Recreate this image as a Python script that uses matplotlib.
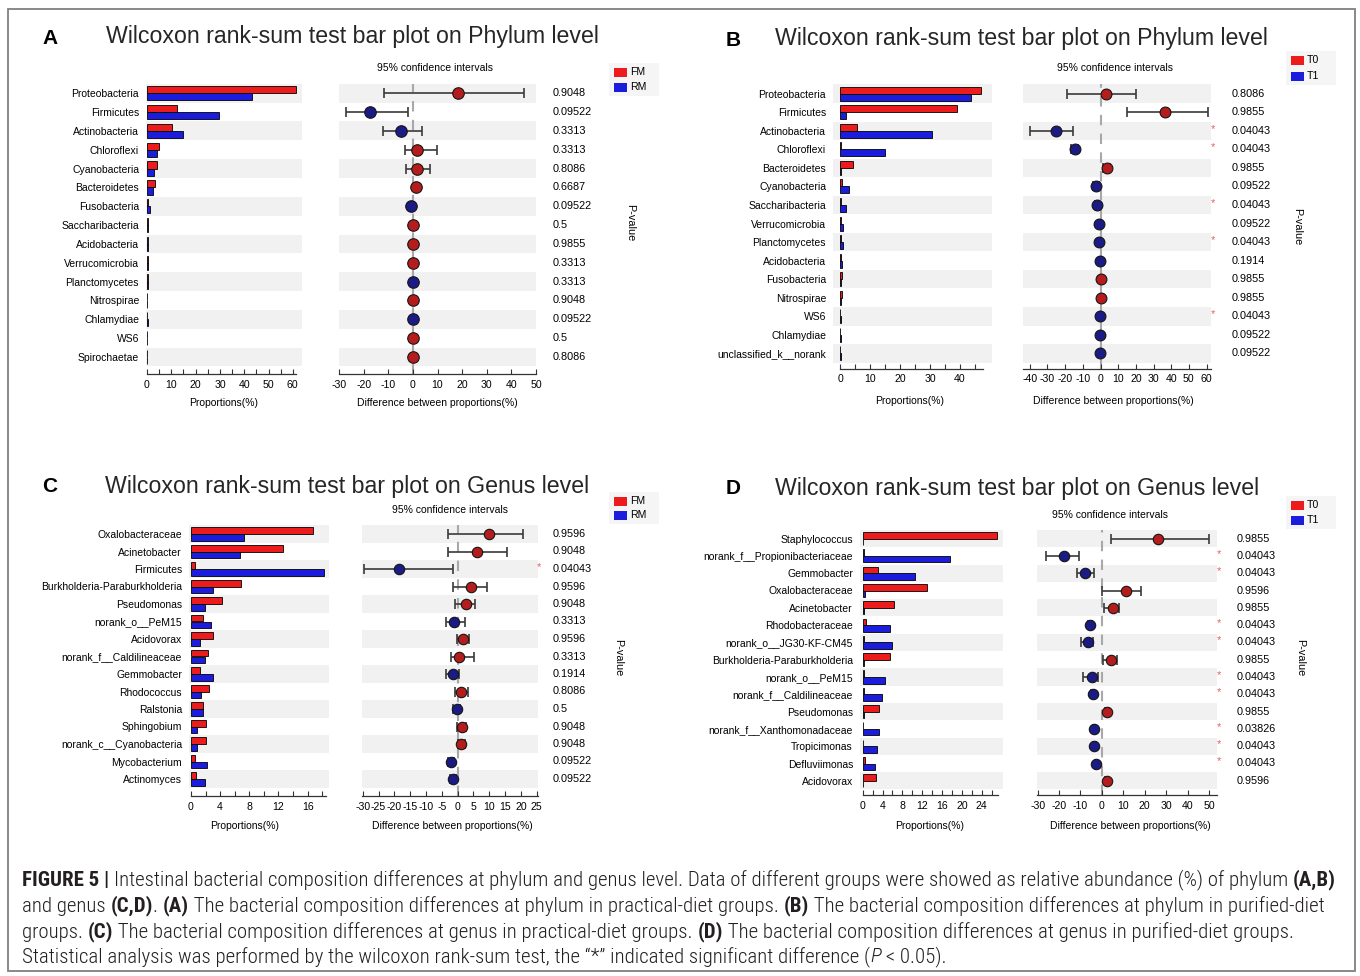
import matplotlib
matplotlib.use("Agg")
import matplotlib.pyplot as plt
from matplotlib import font_manager
from matplotlib.patches import Rectangle
import numpy as np

W, H = 1360, 976

# ---------------- A: phylum, practical diet ----------------
a_taxa = ["Proteobacteria", "Firmicutes", "Actinobacteria", "Chloroflexi", "Cyanobacteria",
          "Bacteroidetes", "Fusobacteria", "Saccharibacteria", "Acidobacteria", "Verrucomicrobia",
          "Planctomycetes", "Nitrospirae", "Chlamydiae", "WS6", "Spirochaetae"]
a_red = [61.2, 12.2, 10.1, 5.1, 4.1, 3.4, 0.5, 0.4, 0.6, 0.4, 0.3, 0.2, 0.2, 0.1, 0.1]
a_blue = [43.1, 29.6, 15.0, 4.0, 3.0, 2.3, 1.2, 0.6, 0.5, 0.4, 0.4, 0.2, 0.3, 0.1, 0.1]
a_diff = [18.2, -17.6, -4.9, 1.6, 1.6, 1.3, -0.8, 0.1, 0.1, 0.05, -0.1, 0.05, -0.1, 0.05, 0.05]
a_low = [-11.8, -27.2, -12.1, -3.1, -2.8, 0.3, -1.5, -0.2, -0.1, -0.2, -0.3, -0.1, -0.3, -0.1, -0.1]
a_high = [45.3, -1.9, 3.9, 9.9, 6.9, 2.3, -0.1, 0.4, 0.3, 0.3, 0.1, 0.2, 0.1, 0.2, 0.2]
a_pval = ["0.9048", "0.09522", "0.3313", "0.3313", "0.8086", "0.6687", "0.09522", "0.5",
          "0.9855", "0.3313", "0.3313", "0.9048", "0.09522", "0.5", "0.8086"]

# ---------------- B: phylum, purified diet ----------------
b_taxa = ["Proteobacteria", "Firmicutes", "Actinobacteria", "Chloroflexi", "Bacteroidetes",
          "Cyanobacteria", "Saccharibacteria", "Verrucomicrobia", "Planctomycetes", "Acidobacteria",
          "Fusobacteria", "Nitrospirae", "WS6", "Chlamydiae", "unclassified_k__norank"]
b_red = [47.0, 38.9, 5.6, 0.4, 4.2, 0.5, 0.3, 0.2, 0.3, 0.2, 0.6, 0.5, 0.1, 0.1, 0.1]
b_blue = [43.7, 1.9, 30.7, 14.9, 0.3, 3.0, 2.0, 0.9, 1.1, 0.6, 0.4, 0.3, 0.4, 0.3, 0.3]
b_diff = [3.0, 36.5, -25.0, -14.6, 3.5, -2.6, -1.8, -0.7, -0.9, -0.4, 0.3, 0.2, -0.3, -0.2, -0.2]
b_low = [-19.1, 15.1, -39.7, -16.5, 1.5, -4.5, -3.0, -1.2, -1.5, -0.7, 0.0, 0.0, -0.5, -0.4, -0.4]
b_high = [20.0, 60.6, -15.5, -12.7, 5.5, -0.8, -0.7, -0.2, -0.3, -0.1, 0.6, 0.4, -0.1, 0.0, 0.0]
b_pval = ["0.8086", "0.9855", "0.04043", "0.04043", "0.9855", "0.09522", "0.04043", "0.09522",
          "0.04043", "0.1914", "0.9855", "0.9855", "0.04043", "0.09522", "0.09522"]

# ---------------- C: genus, practical diet ----------------
c_taxa = ["Oxalobacteraceae", "Acinetobacter", "Firmicutes", "Burkholderia-Paraburkholderia",
          "Pseudomonas", "norank_o__PeM15", "Acidovorax", "norank_f__Caldilineaceae",
          "Gemmobacter", "Rhodococcus", "Ralstonia", "Sphingobium", "norank_c__Cyanobacteria",
          "Mycobacterium", "Actinomyces"]
c_red = [16.7, 12.6, 0.6, 6.8, 4.3, 1.7, 3.0, 2.4, 1.2, 2.5, 1.7, 2.0, 2.0, 0.5, 0.7]
c_blue = [7.3, 6.7, 18.2, 3.0, 1.9, 2.7, 1.3, 1.9, 3.0, 1.4, 1.7, 0.8, 0.8, 2.2, 1.9]
c_diff = [9.9, 6.2, -18.4, 4.2, 2.7, -1.0, 1.8, 0.5, -1.6, 1.0, -0.3, 1.5, 1.2, -2.1, -1.4]
c_low = [-2.9, -2.9, -29.5, -1.4, -0.8, -3.8, -0.3, -2.1, -3.8, -0.8, -1.3, -0.3, 0.0, -3.0, -2.3]
c_high = [20.8, 15.5, -1.4, 9.2, 5.5, 2.3, 3.7, 5.3, 0.5, 3.2, 0.7, 2.6, 2.3, -1.2, -0.5]
c_pval = ["0.9596", "0.9048", "0.04043", "0.9596", "0.9048", "0.3313", "0.9596", "0.3313",
          "0.1914", "0.8086", "0.5", "0.9048", "0.9048", "0.09522", "0.09522"]

# ---------------- D: genus, purified diet ----------------
d_taxa = ["Staphylococcus", "norank_f__Propionibacteriaceae", "Gemmobacter", "Oxalobacteraceae",
          "Acinetobacter", "Rhodobacteraceae", "norank_o__JG30-KF-CM45",
          "Burkholderia-Paraburkholderia", "norank_o__PeM15", "norank_f__Caldilineaceae",
          "Pseudomonas", "norank_f__Xanthomonadaceae", "Tropicimonas", "Defluviimonas", "Acidovorax"]
d_red = [27.1, 0.3, 3.0, 12.9, 6.3, 0.7, 0.2, 5.5, 0.2, 0.2, 3.3, 0.1, 0.1, 0.5, 2.6]
d_blue = [0.1, 17.5, 10.5, 0.5, 0.3, 5.5, 6.0, 0.3, 4.4, 3.8, 0.2, 3.3, 2.9, 2.4, 0.1]
d_diff = [26.0, -17.6, -7.9, 11.3, 5.0, -5.6, -6.6, 4.3, -4.8, -4.3, 2.5, -3.7, -3.5, -2.9, 2.2]
d_low = [4.3, -26.3, -11.8, 0.2, 1.0, -6.5, -9.8, 0.3, -8.7, -5.0, 1.5, -4.3, -4.1, -3.4, 1.5]
d_high = [50.0, -10.7, -3.5, 18.1, 8.1, -4.7, -4.3, 7.2, -2.0, -3.6, 3.5, -3.0, -2.9, -2.4, 2.8]
d_pval = ["0.9855", "0.04043", "0.04043", "0.9596", "0.9855", "0.04043", "0.04043", "0.9855",
          "0.04043", "0.04043", "0.9855", "0.03826", "0.04043", "0.04043", "0.9596"]

BAR_RED, BAR_BLUE = "#ec1c1c", "#1c1cdc"
DOT_RED, DOT_BLUE = "#b51d1d", "#1b1b86"
STRIPE = "#f1f1f1"

def pick_family(names):
    for n in names:
        try:
            font_manager.findfont(font_manager.FontProperties(family=n), fallback_to_default=False)
            return n
        except ValueError:
            pass
    return "DejaVu Sans"

SANS = pick_family(["Liberation Sans", "Arial", "DejaVu Sans"])
NARROW = pick_family(["Liberation Sans Narrow", "Roboto Condensed", "Arial Narrow", "Liberation Sans"])
plt.rcParams["font.family"] = [SANS, "DejaVu Sans"]

fig = plt.figure(figsize=(W / 100, H / 100), dpi=100)


def fx(x):
    return x / W


def fy(y):
    return 1 - y / H


def px_axes(x0, x1, y0, y1):
    return fig.add_axes([fx(x0), fy(y1), (x1 - x0) / W, (y1 - y0) / H])


def style_bottom(ax, lo, hi, major, minor):
    for s in ("top", "right", "left"):
        ax.spines[s].set_visible(False)
    ax.spines["bottom"].set_bounds(lo, hi)
    ax.spines["bottom"].set_linewidth(0.9)
    ax.spines["bottom"].set_color("#333333")
    ax.set_xticks(major)
    ax.set_xticks(minor, minor=True)
    ax.tick_params(axis="x", which="both", direction="in", length=3.5, width=0.8,
                   color="#333333", labelsize=7.6, pad=4)
    ax.xaxis.set_major_formatter(matplotlib.ticker.FormatStrFormatter("%g"))


def draw_panel(letter, title, taxa, red, blue, diff, low, high, pval, groups, lay):
    n = len(taxa)
    row0, sp = lay["row0"], lay["sp"]

    fig.text(fx(lay["letter"][0]), fy(lay["letter"][1]), letter, fontsize=15,
             fontweight="bold", ha="center", va="center")
    fig.text(fx(lay["title"][0]), fy(lay["title"][1]), title, fontsize=16.7,
             ha="center", va="center", color="#262626")

    # proportions (left)
    bx0, bx1, bz, bppu = lay["bar"]
    ax = px_axes(bx0, bx1, row0 - sp / 2, lay["spine"])
    ax.set_xlim((bx0 - bz) / bppu, (bx1 - bz) / bppu)
    ax.set_ylim((lay["spine"] - row0) / sp, -0.5)
    for i in range(0, n, 2):
        ax.axhspan(i - 0.5, i + 0.5, color=STRIPE, lw=0, zorder=0)
    y = np.arange(n)
    ax.barh(y - 0.19, red, height=0.38, color=BAR_RED, edgecolor="black", lw=0.6, zorder=2)
    ax.barh(y + 0.19, blue, height=0.38, color=BAR_BLUE, edgecolor="black", lw=0.6, zorder=2)
    ax.set_yticks(y)
    ax.set_yticklabels(taxa, fontsize=7.5)
    ax.tick_params(axis="y", length=0, pad=5)
    bend, bmaj, bmin = lay["bar_ticks"]
    style_bottom(ax, 0, bend, np.arange(0, bend, bmaj), np.arange(0, bend, bmin))
    fig.text(fx(lay["bar_xlabel"][0]), fy(lay["bar_xlabel"][1]), "Proportions(%)",
             fontsize=7.5, ha="center", va="center")

    # confidence intervals (right)
    cx0, cx1, cz, cppu = lay["ci"]
    ax2 = px_axes(cx0, cx1, row0 - sp / 2, lay["spine"])
    lo_v, hi_v = (cx0 - cz) / cppu, (cx1 - cz) / cppu
    ax2.set_xlim(lo_v, hi_v)
    ax2.set_ylim((lay["spine"] - row0) / sp, -0.5)
    for i in range(0, n, 2):
        ax2.axhspan(i - 0.5, i + 0.5, color=STRIPE, lw=0, zorder=0)
    ax2.axvline(0, color="#a8a8a8", lw=1.5, ls=(0, (5, 4)), zorder=1)
    for i in range(n):
        ax2.errorbar(diff[i], i, xerr=[[diff[i] - low[i]], [high[i] - diff[i]]], fmt="none",
                     ecolor="#3a3a3a", elinewidth=1.2, capsize=3.6, capthick=1.2, zorder=2)
        ax2.plot(diff[i], i, "o", ms=lay["ms"], mfc=DOT_RED if diff[i] > 0 else DOT_BLUE,
                 mec="#151515", mew=0.8, zorder=3)
    ax2.set_yticks([])
    cmin, cmax, cstep = lay["ci_ticks"]
    ticks = np.arange(cmin, cmax + 0.1, cstep)
    style_bottom(ax2, lo_v, hi_v, ticks, ticks)
    fig.text(fx(lay["ci_title"][0]), fy(lay["ci_title"][1]), "95% confidence intervals",
             fontsize=7.5, ha="center", va="center")
    fig.text(fx(lay["ci_xlabel"][0]), fy(lay["ci_xlabel"][1]),
             "Difference between proportions(%)", fontsize=7.5, ha="center", va="center")

    # p-values and significance marks
    for i, p in enumerate(pval):
        yy = row0 + i * sp
        fig.text(fx(lay["pval_x"]), fy(yy), p, fontsize=7.8, ha="left", va="center")
        if float(p) < 0.05:
            fig.text(fx(lay["star_x"]), fy(yy - 2), "*", fontsize=8, color="#e5606a",
                     ha="center", va="center")
    fig.text(fx(lay["pv_label"][0]), fy(lay["pv_label"][1]), "P-value", fontsize=7.8,
             rotation=270, ha="center", va="center")

    # group legend
    lx, ly, dy = lay["legend"]
    fig.patches.append(Rectangle((fx(lx - 5), fy(ly + dy + 9)), 50 / W, (dy + 18) / H,
                                 transform=fig.transFigure, facecolor="#f5f5f5",
                                 edgecolor="none", zorder=0))
    for k, (g, c) in enumerate(zip(groups, (BAR_RED, BAR_BLUE))):
        yy = ly + k * dy
        fig.patches.append(Rectangle((fx(lx), fy(yy + 4.5)), 13 / W, 9 / H,
                                     transform=fig.transFigure, facecolor=c,
                                     edgecolor="none", zorder=1))
        fig.text(fx(lx + 16), fy(yy), g, fontsize=7.6, ha="left", va="center")


layout_a = dict(letter=(50, 38), title=(352, 36), row0=93.2, sp=18.84, spine=374,
                bar=(146, 302, 147, 2.43), bar_ticks=(61.5, 10, 5), bar_xlabel=(224, 403),
                ci=(339, 536, 412.9, 2.4625), ci_ticks=(-30, 50, 10), ci_title=(435, 68),
                ci_xlabel=(437, 403), pval_x=553, star_x=540, pv_label=(630, 223),
                legend=(614, 72, 15), ms=8.3)
layout_b = dict(letter=(733, 40), title=(1021, 39), row0=93.7, sp=18.55, spine=368.5,
                bar=(833, 992, 840, 3.0), bar_ticks=(47.5, 10, 5), bar_xlabel=(910, 401),
                ci=(1022.7, 1210.7, 1100.5, 1.767), ci_ticks=(-40, 60, 10), ci_title=(1115, 68),
                ci_xlabel=(1113, 401), pval_x=1232, star_x=1213, pv_label=(1297, 227),
                legend=(1291, 60, 16), ms=7.8)
layout_c = dict(letter=(50, 487), title=(347, 486), row0=534, sp=17.5, spine=796,
                bar=(189, 329, 191, 7.29), bar_ticks=(18.5, 4, 2), bar_xlabel=(245, 826),
                ci=(361.7, 538.3, 457.6, 3.164), ci_ticks=(-30, 25, 5), ci_title=(450, 510),
                ci_xlabel=(452, 826), pval_x=553, star_x=539, pv_label=(618, 658),
                legend=(614, 501, 14), ms=7.5)
layout_d = dict(letter=(733, 488), title=(1017, 488), row0=538.6, sp=17.3, spine=795,
                bar=(860, 1003, 862.7, 4.96), bar_ticks=(27.2, 4, 2), bar_xlabel=(930, 826),
                ci=(1036.7, 1216.7, 1101.9, 2.141), ci_ticks=(-30, 50, 10), ci_title=(1110, 515),
                ci_xlabel=(1130, 826), pval_x=1237, star_x=1219, pv_label=(1300, 658),
                legend=(1291, 505, 15), ms=7.5)

draw_panel("A", "Wilcoxon rank-sum test bar plot on Phylum level", a_taxa, a_red, a_blue,
           a_diff, a_low, a_high, a_pval, ("FM", "RM"), layout_a)
draw_panel("B", "Wilcoxon rank-sum test bar plot on Phylum level", b_taxa, b_red, b_blue,
           b_diff, b_low, b_high, b_pval, ("T0", "T1"), layout_b)
draw_panel("C", "Wilcoxon rank-sum test bar plot on Genus level", c_taxa, c_red, c_blue,
           c_diff, c_low, c_high, c_pval, ("FM", "RM"), layout_c)
draw_panel("D", "Wilcoxon rank-sum test bar plot on Genus level", d_taxa, d_red, d_blue,
           d_diff, d_low, d_high, d_pval, ("T0", "T1"), layout_d)

# outer frame
fig.patches.append(Rectangle((fx(8), fy(971)), (1355 - 8) / W, (971 - 9) / H,
                             transform=fig.transFigure, fill=False, edgecolor="#808080", lw=1.3))

# caption with mixed weights
caption = [
    [("FIGURE 5 | ", "bold", "normal"),
     ("Intestinal bacterial composition differences at phylum and genus level. Data of different "
      "groups were showed as relative abundance (%) of phylum ", "light", "normal"),
     ("(A,B)", "bold", "normal")],
    [("and genus ", "light", "normal"), ("(C,D)", "bold", "normal"), (". ", "light", "normal"),
     ("(A)", "bold", "normal"),
     (" The bacterial composition differences at phylum in practical-diet groups. ", "light", "normal"),
     ("(B)", "bold", "normal"),
     (" The bacterial composition differences at phylum in purified-diet", "light", "normal")],
    [("groups. ", "light", "normal"), ("(C)", "bold", "normal"),
     (" The bacterial composition differences at genus in practical-diet groups. ", "light", "normal"),
     ("(D)", "bold", "normal"),
     (" The bacterial composition differences at genus in purified-diet groups.", "light", "normal")],
    [("Statistical analysis was performed by the wilcoxon rank-sum test, the \u201c*\u201d indicated "
      "significant difference (", "light", "normal"), ("P", "light", "italic"),
     (" < 0.05).", "light", "normal")],
]
cap_y = [880, 906, 932, 957]
cap_x0, cap_x1 = 22.0, 1338.0
renderer = fig.canvas.get_renderer()


def seg_width(text, fp):
    w1, _, _ = renderer.get_text_width_height_descent("x" + text + "x", fp, ismath=False)
    w0, _, _ = renderer.get_text_width_height_descent("xx", fp, ismath=False)
    return w1 - w0


def cap_font(size, weight, style):
    return font_manager.FontProperties(family=[NARROW, "DejaVu Sans"], size=size,
                                       weight=weight, style=style)


# size the caption so that its first line spans the full text block
base = 12.0
first = sum(seg_width(t, cap_font(base, w, s)) for t, w, s in caption[0])
cap_size = base * (cap_x1 - cap_x0) / first

for segs, yy in zip(caption, cap_y):
    x = cap_x0
    for text, weight, style in segs:
        fp = cap_font(cap_size, weight, style)
        fig.text(fx(x), fy(yy), text, fontproperties=fp, ha="left", va="center", color="#231f20")
        x += seg_width(text, fp)

fig.savefig("out.png", dpi=100)
